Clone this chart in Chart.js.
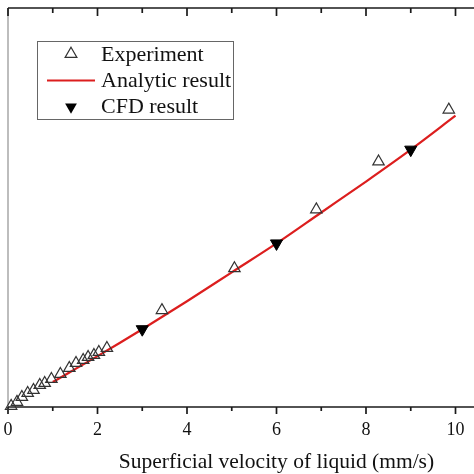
<!DOCTYPE html>
<html>
<head>
<meta charset="utf-8">
<script src="https://cdn.jsdelivr.net/npm/chart.js@4.4.1/dist/chart.umd.min.js"></script>
<style>
html,body{margin:0;padding:0;width:474px;height:474px;overflow:hidden;background:#fff;}
#wrap{position:relative;width:474px;height:474px;overflow:hidden;}
canvas{position:absolute;left:0;top:0;}
</style>
</head>
<body>
<div id="wrap"><canvas id="c" width="556" height="474" style="width:556px;height:474px"></canvas></div>
<script>
// ---- data ----
const expX = [0.07,0.20,0.31,0.44,0.57,0.71,0.82,0.97,1.17,1.37,1.52,1.68,1.79,1.92,2.03,2.21,3.44,5.06,6.89,8.28,9.85];
const expY = [1,5,10,14,17,22,24,28,33,39,44,47,50,52,55,59,97,139,198,246,298];
const anaX = [1,2,3,4,5,6,7,8,9,10];
const anaY = [25,51,78,106,135,164,195,226,258,292];
const cfdX = [3,6,9];
const cfdY = [78,164,258];
const xTickLabels = ['0','2','4','6','8','10'];
const seriesNames = ['Experiment','Analytic result','CFD result'];
const xTitle = 'Superficial velocity of liquid (mm/s)';

const SERIF = '"Liberation Serif", "DejaVu Serif", serif';
const RED = '#dc1e1e';

function pts(xs, ys){ return xs.map((x,i)=>({x:x,y:ys[i]})); }

const framePlugin = {
  id: 'frame',
  beforeDatasetsDraw(chart){
    const ctx = chart.ctx, a = chart.chartArea, xs = chart.scales.x;
    ctx.save();
    // left axis (grey)
    ctx.strokeStyle = '#bdbdbd'; ctx.lineWidth = 2;
    ctx.beginPath(); ctx.moveTo(a.left, a.top); ctx.lineTo(a.left, a.bottom); ctx.stroke();
    // bottom and top axes
    ctx.strokeStyle = '#1a1a1a'; ctx.lineWidth = 1.7;
    ctx.beginPath(); ctx.moveTo(a.left, a.bottom); ctx.lineTo(a.right, a.bottom); ctx.stroke();
    ctx.beginPath(); ctx.moveTo(a.left, a.top); ctx.lineTo(a.right, a.top); ctx.stroke();
    // tick marks from the scale's ticks
    ctx.lineWidth = 1.7;
    xs.ticks.forEach(t => {
      const px = xs.getPixelForValue(t.value);
      const major = Math.round(t.value) % 2 === 0;
      ctx.beginPath(); ctx.moveTo(px, a.bottom); ctx.lineTo(px, a.bottom + (major ? 7 : 4)); ctx.stroke();
      ctx.beginPath(); ctx.moveTo(px, a.top); ctx.lineTo(px, a.top + (major ? 8 : 5)); ctx.stroke();
    });
    ctx.restore();
  },
  afterDraw(chart){
    const ctx = chart.ctx;
    ctx.save();
    // legend box
    ctx.strokeStyle = '#666'; ctx.lineWidth = 1;
    ctx.strokeRect(37.5, 41.5, 196, 78);
    ctx.font = '22px ' + SERIF;
    ctx.fillStyle = '#111';
    ctx.textBaseline = 'middle';
    ctx.textAlign = 'left';
    const rows = [55, 81.5, 107.5];
    const r = 6.8;
    function tri(cx, cy, rr, down){
      const s = down ? -1 : 1;
      ctx.beginPath();
      ctx.moveTo(cx, cy - s*rr);
      ctx.lineTo(cx + rr*Math.sqrt(3)/2, cy + s*rr/2);
      ctx.lineTo(cx - rr*Math.sqrt(3)/2, cy + s*rr/2);
      ctx.closePath();
    }
    tri(71, 54, r, false);
    ctx.strokeStyle = '#333'; ctx.lineWidth = 1.2; ctx.stroke();
    // analytic line
    ctx.strokeStyle = RED; ctx.lineWidth = 2;
    ctx.beginPath(); ctx.moveTo(47, 80.5); ctx.lineTo(95, 80.5); ctx.stroke();
    // cfd marker
    tri(71, 107, r, true);
    ctx.fillStyle = '#000'; ctx.fill();
    ctx.fillStyle = '#111';
    seriesNames.forEach((n,i) => ctx.fillText(n, 101, rows[i]));
    ctx.restore();
  }
};

new Chart(document.getElementById('c'), {
  type: 'scatter',
  data: {
    datasets: [
      {
        label: seriesNames[1], type: 'line', data: pts(anaX, anaY),
        borderColor: RED, borderWidth: 2.2, pointRadius: 0, showLine: true,
        cubicInterpolationMode: 'monotone', clip: false, order: 2
      },
      {
        label: seriesNames[0], data: pts(expX, expY),
        pointStyle: 'triangle', pointRadius: 6.6, pointBorderWidth: 1.2,
        pointBorderColor: '#333', pointBackgroundColor: 'rgba(255,255,255,0)',
        clip: false, order: 1
      },
      {
        label: seriesNames[2], data: pts(cfdX, cfdY),
        pointStyle: 'triangle', pointRotation: 180, pointRadius: 7, pointBorderWidth: 1,
        pointBorderColor: '#000', pointBackgroundColor: '#000',
        clip: false, order: 0
      }
    ]
  },
  options: {
    responsive: false,
    animation: false,
    events: [],
    layout: { padding: { left: 1, right: 11, top: 7, bottom: 0 } },
    plugins: { legend: { display: false }, tooltip: { enabled: false } },
    scales: {
      x: {
        type: 'linear', min: 0, max: 12,
        border: { display: false },
        grid: { display: false, drawTicks: false },
        ticks: {
          stepSize: 1, includeBounds: false, maxRotation: 0, autoSkip: false,
          padding: 12, color: '#111', font: { family: SERIF, size: 18 },
          callback: (v) => { const i = xTickLabels.indexOf(String(v)); return i >= 0 ? xTickLabels[i] : ''; }
        },
        title: {
          display: true, text: xTitle, color: '#111',
          font: { family: SERIF, size: 21.5 }, padding: { top: 0, bottom: -1.5 }
        },
        afterFit: (s) => { s.height = 67; s.paddingLeft = 0; s.paddingRight = 0; }
      },
      y: {
        type: 'linear', min: 0, max: 400, display: false
      }
    }
  },
  plugins: [framePlugin]
});
</script>
</body>
</html>
